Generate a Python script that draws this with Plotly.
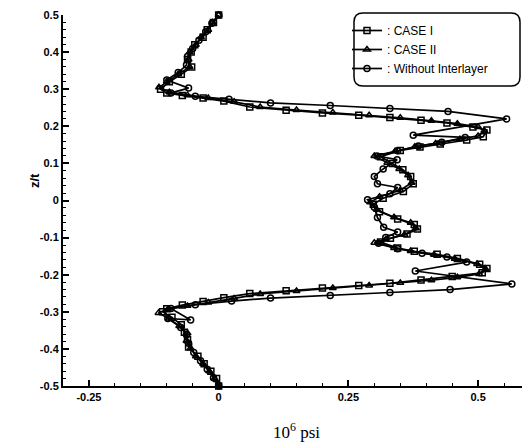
import plotly.graph_objects as go

# ---- data (x in 10^6 psi, z/t) ----
case1_x = [0.000, -0.010, -0.022, -0.030, -0.046, -0.053, -0.060, -0.052, -0.072, -0.095, -0.112, -0.100,
           -0.070, -0.030, 0.010, 0.060, 0.130, 0.200, 0.270, 0.330, 0.390, 0.440, 0.490, 0.517,
           0.510, 0.478, 0.427, 0.388, 0.350, 0.312, 0.335, 0.355, 0.370, 0.375, 0.356, 0.317,
           0.298, 0.310, 0.345, 0.377, 0.383, 0.363, 0.331, 0.312, 0.345, 0.377, 0.421, 0.460,
           0.503, 0.517, 0.508, 0.450, 0.390, 0.330, 0.270, 0.200, 0.130, 0.060, 0.010, -0.030,
           -0.070, -0.100, -0.108, -0.090, -0.072, -0.066, -0.060, -0.058, -0.040, -0.028, -0.015, -0.004, 0.000]
case1_z = [0.500, 0.480, 0.460, 0.440, 0.420, 0.400, 0.380, 0.360, 0.340, 0.320, 0.300, 0.290,
           0.283, 0.276, 0.268, 0.252, 0.243, 0.236, 0.230, 0.224, 0.216, 0.209, 0.198, 0.190,
           0.172, 0.163, 0.152, 0.144, 0.135, 0.118, 0.100, 0.083, 0.065, 0.045, 0.024, 0.006,
           -0.010, -0.030, -0.050, -0.065, -0.077, -0.090, -0.102, -0.112, -0.128, -0.137, -0.145, -0.156,
           -0.172, -0.183, -0.195, -0.205, -0.214, -0.223, -0.229, -0.236, -0.243, -0.251, -0.262, -0.272,
           -0.282, -0.292, -0.300, -0.315, -0.335, -0.355, -0.375, -0.395, -0.420, -0.440, -0.460, -0.480, -0.500]

case2_x = [0.000, -0.012, -0.020, -0.034, -0.044, -0.056, -0.058, -0.056, -0.078, -0.100, -0.115, -0.095,
           -0.060, -0.020, 0.030, 0.080, 0.150, 0.220, 0.290, 0.350, 0.410, 0.460, 0.500, 0.512,
           0.500, 0.465, 0.418, 0.378, 0.340, 0.300, 0.325, 0.348, 0.365, 0.372, 0.350, 0.310,
           0.292, 0.305, 0.338, 0.370, 0.380, 0.358, 0.322, 0.300, 0.338, 0.370, 0.415, 0.455,
           0.498, 0.514, 0.502, 0.460, 0.410, 0.350, 0.290, 0.220, 0.150, 0.080, 0.030, -0.020,
           -0.060, -0.098, -0.116, -0.096, -0.076, -0.060, -0.062, -0.054, -0.044, -0.030, -0.018, -0.008, 0.000]
case2_z = [0.500, 0.480, 0.460, 0.440, 0.420, 0.400, 0.380, 0.360, 0.340, 0.320, 0.305, 0.292,
           0.284, 0.276, 0.266, 0.252, 0.244, 0.237, 0.230, 0.223, 0.215, 0.207, 0.198, 0.188,
           0.174, 0.165, 0.154, 0.145, 0.133, 0.120, 0.102, 0.085, 0.068, 0.048, 0.028, 0.010,
           -0.005, -0.025, -0.045, -0.060, -0.075, -0.092, -0.105, -0.114, -0.128, -0.136, -0.146, -0.157,
           -0.171, -0.184, -0.198, -0.207, -0.215, -0.222, -0.229, -0.236, -0.244, -0.252, -0.264, -0.275,
           -0.284, -0.293, -0.303, -0.318, -0.338, -0.358, -0.378, -0.398, -0.420, -0.440, -0.460, -0.480, -0.500]

noint_x = [0.000, -0.013, -0.025, -0.038, -0.050, -0.060, -0.062, -0.078, -0.100, -0.058, -0.092, -0.045,
           0.020, 0.100, 0.215, 0.330, 0.442, 0.555, 0.375, 0.475, 0.430, 0.385, 0.345, 0.305,
           0.344, 0.317, 0.300, 0.306, 0.345, 0.330, 0.287, 0.300, 0.306, 0.318, 0.345, 0.322,
           0.308, 0.345, 0.392, 0.440, 0.478, 0.379, 0.565, 0.446, 0.330, 0.215, 0.100, 0.025,
           -0.045, -0.092, -0.054, -0.098, -0.073, -0.062, -0.058, -0.048, -0.035, -0.022, -0.010, 0.000]
noint_z = [0.500, 0.478, 0.455, 0.432, 0.410, 0.388, 0.365, 0.345, 0.325, 0.303, 0.290, 0.281,
           0.273, 0.263, 0.256, 0.248, 0.240, 0.220, 0.176, 0.170, 0.157, 0.147, 0.134, 0.120,
           0.110, 0.085, 0.065, 0.045, 0.035, 0.018, 0.002, -0.018, -0.046, -0.072, -0.085, -0.100,
           -0.115, -0.130, -0.142, -0.152, -0.166, -0.190, -0.225, -0.240, -0.248, -0.256, -0.263, -0.271,
           -0.281, -0.291, -0.322, -0.318, -0.342, -0.362, -0.385, -0.410, -0.432, -0.455, -0.478, -0.500]

series_names = [": CASE I", ": CASE II", ": Without Interlayer"]

x_tickvals = [-0.25, 0, 0.25, 0.5]
x_ticktext = ["-0.25", "0", "0.25", "0.5"]
y_tickvals = [0.5, 0.4, 0.3, 0.2, 0.1, 0, -0.1, -0.2, -0.3, -0.4, -0.5]
y_ticktext = ["0.5", "0.4", "0.3", "0.2", "0.1", "0", "-0.1", "-0.2", "-0.3", "-0.4", "-0.5"]

fig = go.Figure()
symbols = ["square-open", "triangle-up-open", "circle-open"]
for name, xs, zs, sym in zip(series_names, [case1_x, case2_x, noint_x],
                             [case1_z, case2_z, noint_z], symbols):
    fig.add_trace(go.Scatter(
        x=xs, y=zs, name=name, mode="lines+markers",
        line=dict(color="black", width=1.7),
        marker=dict(symbol=sym, size=6, color="black", line=dict(color="black", width=1.5)),
        cliponaxis=False,
    ))

# geometry in window pixels (page body has an 8px margin)
PL, PT, PB = 63.0, 15.0, 386.0
W, H = 467.0, PB - PT

def px(xw):
    return (xw - PL) / W

def py(yw):
    return 1 - (yw - PT) / H

# rounded legend box
x0, x1 = px(354), px(520)
y1, y0 = py(13), py(86)
rx, ry = 9 / W, 9 / H
path = (f"M{x0+rx},{y1} L{x1-rx},{y1} Q{x1},{y1} {x1},{y1-ry} L{x1},{y0+ry} Q{x1},{y0} {x1-rx},{y0} "
        f"L{x0+rx},{y0} Q{x0},{y0} {x0},{y0+ry} L{x0},{y1-ry} Q{x0},{y1} {x0+rx},{y1} Z")
fig.add_shape(type="path", path=path, xref="paper", yref="paper",
              line=dict(color="black", width=1.5), fillcolor="white", layer="below")

fig.add_annotation(text="<b>z/t</b>", x=px(34), y=py(181), xref="paper", yref="paper",
                   textangle=-90, showarrow=False, xanchor="center", yanchor="middle",
                   font=dict(family="Liberation Sans, Arial", size=13, color="black"))

fig.update_layout(
    width=522, height=438,
    margin=dict(l=55, r=0, t=7, b=60, autoexpand=False),
    paper_bgcolor="white", plot_bgcolor="white",
    showlegend=True,
    legend=dict(x=px(347), y=py(16), xanchor="left", yanchor="top",
                bgcolor="rgba(0,0,0,0)", borderwidth=0, itemwidth=30,
                font=dict(family="Liberation Sans, Arial", size=12, color="black"),
                tracegroupgap=0),
    font=dict(family="Liberation Sans, Arial", color="black"),
)
fig.update_xaxes(
    range=[-0.3, 0.6], showgrid=False, zeroline=False, automargin=False,
    showline=True, linecolor="black", linewidth=2,
    ticks="inside", ticklen=6, tickwidth=1.5, tickcolor="black",
    tickvals=x_tickvals, ticktext=x_ticktext, ticklabeloverflow="allow",
    tickfont=dict(family="Liberation Sans, Arial", size=11, color="black", weight="bold"),
    minor=dict(dtick=0.05, tick0=0, ticks="inside", ticklen=3, tickwidth=1, tickcolor="black"),
    title=dict(text="10<sup>6</sup> psi", font=dict(family="Liberation Serif, Times New Roman", size=17, color="black"),
               standoff=24),
)
fig.update_yaxes(
    range=[-0.5, 0.5], showgrid=False, zeroline=False, automargin=False,
    showline=True, linecolor="black", linewidth=2,
    ticks="inside", ticklen=6, tickwidth=1.5, tickcolor="black",
    tickvals=y_tickvals, ticktext=y_ticktext, ticklabeloverflow="allow",
    tickfont=dict(family="Liberation Sans, Arial", size=11, color="black", weight="bold"),
    minor=dict(dtick=0.02, tick0=0, ticks="inside", ticklen=3, tickwidth=1, tickcolor="black"),
)

fig.write_html("out.html")
